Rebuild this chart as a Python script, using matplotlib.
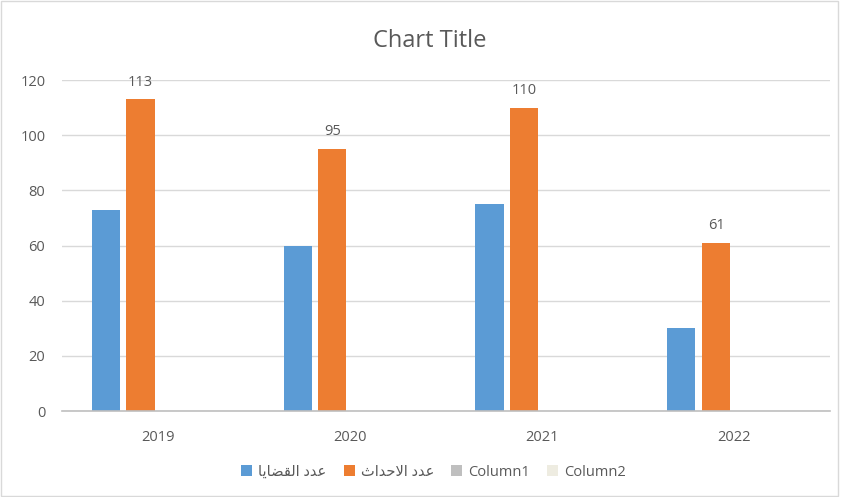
import numpy as np
import matplotlib.pyplot as plt
from matplotlib.patches import Rectangle

plt.rcParams['font.family'] = ['Open Sans', 'DejaVu Sans']

# -----------------------------
# Data
# -----------------------------
years = ["2019", "2020", "2021", "2022"]
cases = [73, 60, 75, 30]          # عدد القضايا
juveniles = [113, 95, 110, 61]    # عدد الاحداث
column1 = [0, 0, 0, 0]
column2 = [0, 0, 0, 0]

# Arabic labels written in presentation forms (visual order),
# since matplotlib does no shaping of its own
label_cases = "\uFE8E\uFEF3\uFE8E\uFEC0\uFED8\uFEDF\uFE8D \uFEA9\uFEAA\uFECB"
label_juveniles = "\uFE99\uFE8D\uFEAA\uFEA3\uFEFB\uFE8D \uFEA9\uFEAA\uFECB"

series = [
    (label_cases, cases, "#5B9BD5"),
    (label_juveniles, juveniles, "#ED7D31"),
    ("Column1", column1, "#BFBFBF"),
    ("Column2", column2, "#EEECE1"),
]

text_color = "#595959"

# -----------------------------
# Plot
# -----------------------------
fig = plt.figure(figsize=(8.42, 4.97), dpi=100)
ax = fig.add_axes([0.0736, 0.173, 0.912, 0.666])

x = np.arange(len(years))
slot = 0.182
width = 0.146

bars = []
for i, (name, vals, color) in enumerate(series):
    b = ax.bar(x + (i - 1.5) * slot, vals, width, color=color,
               label=name, linewidth=0, zorder=3)
    bars.append(b)

# value labels on the orange series only
for rect, v in zip(bars[1], juveniles):
    ax.annotate(str(v), (rect.get_x() + rect.get_width() / 2, v),
                xytext=(0, 7), textcoords="offset points",
                ha="center", va="bottom", fontsize=10.5, color=text_color,
                annotation_clip=False)

ax.set_xlim(-0.5, 3.5)
ax.set_ylim(0, 120)
ax.set_yticks(range(0, 121, 20))
ax.set_xticks(x)
ax.set_xticklabels(years)

ax.yaxis.grid(True, color="#D9D9D9", linewidth=1, zorder=0)
ax.set_axisbelow(True)
for side in ["top", "right", "left"]:
    ax.spines[side].set_visible(False)
ax.spines["bottom"].set_color("#BFBFBF")
ax.spines["bottom"].set_linewidth(1.2)
ax.spines["bottom"].set_zorder(4)

ax.tick_params(axis="both", length=0, labelsize=10.5, labelcolor=text_color)
ax.tick_params(axis="y", pad=12)
ax.tick_params(axis="x", pad=14)

fig.text(0.51, 0.917, "Chart Title", ha="center", va="center",
         fontsize=17, color=text_color)

fig.legend(loc="center", bbox_to_anchor=(0.515, 0.05), ncol=4,
           frameon=False, fontsize=10.5, labelcolor=text_color,
           handlelength=0.75, handleheight=0.75, handletextpad=0.4,
           columnspacing=1.2)

# light frame round the whole chart
fig.patches.append(Rectangle((0.001, 0.003), 0.994, 0.994,
                             transform=fig.transFigure, fill=False,
                             edgecolor="#D9D9D9", linewidth=1))

plt.savefig("out.png", dpi=100)
